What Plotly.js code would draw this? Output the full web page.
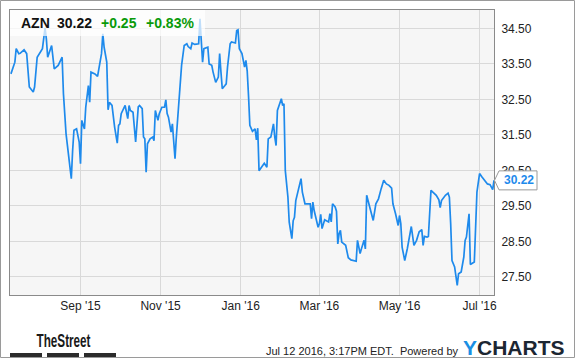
<!DOCTYPE html>
<html>
<head>
<meta charset="utf-8">
<script src="https://cdn.plot.ly/plotly-3.0.1.min.js"></script>
<style>
  html, body { margin: 0; padding: 0; background: #fff; }
  #chart { width: 575px; height: 358px; }
</style>
</head>
<body>
<div id="chart"></div>
<script>
// ---- data ----
const ticker = 'AZN';
const lastPriceText = '30.22';
const changeText = '+0.25';
const changePctText = '+0.83%';

const dates = [
'2015-07-10','2015-07-13','2015-07-14','2015-07-16','2015-07-17','2015-07-20','2015-07-22','2015-07-23','2015-07-24','2015-07-27',
'2015-07-28','2015-07-30','2015-08-01','2015-08-03','2015-08-05','2015-08-06','2015-08-07','2015-08-10','2015-08-12','2015-08-15',
'2015-08-18','2015-08-19','2015-08-21','2015-08-23','2015-08-25','2015-08-26','2015-08-27','2015-08-29','2015-08-31','2015-09-01',
'2015-09-02','2015-09-04','2015-09-05','2015-09-07','2015-09-08','2015-09-09','2015-09-12','2015-09-14','2015-09-16','2015-09-17',
'2015-09-18','2015-09-19','2015-09-21','2015-09-22','2015-09-23','2015-09-25','2015-09-27','2015-09-29','2015-09-30','2015-10-01',
'2015-10-02','2015-10-05','2015-10-07','2015-10-08','2015-10-09','2015-10-11','2015-10-13','2015-10-15','2015-10-16','2015-10-18',
'2015-10-19','2015-10-20','2015-10-21','2015-10-22','2015-10-24','2015-10-26','2015-10-27','2015-10-28','2015-10-30','2015-10-31',
'2015-11-02','2015-11-04','2015-11-05','2015-11-06','2015-11-07','2015-11-08','2015-11-09','2015-11-10','2015-11-12','2015-11-13',
'2015-11-15','2015-11-17','2015-11-19','2015-11-21','2015-11-22','2015-11-24','2015-11-25','2015-11-27','2015-11-30','2015-12-01',
'2015-12-02','2015-12-03','2015-12-04','2015-12-06','2015-12-07','2015-12-08','2015-12-10','2015-12-11','2015-12-12','2015-12-13',
'2015-12-15','2015-12-16','2015-12-17','2015-12-18','2015-12-20','2015-12-21','2015-12-22','2015-12-24','2015-12-25','2015-12-28',
'2015-12-29','2015-12-30','2015-12-31','2016-01-02','2016-01-03','2016-01-04','2016-01-05','2016-01-06','2016-01-07','2016-01-08',
'2016-01-10','2016-01-12','2016-01-13','2016-01-14','2016-01-15','2016-01-17','2016-01-19','2016-01-21','2016-01-22','2016-01-24',
'2016-01-26','2016-01-27','2016-01-28','2016-01-29','2016-01-31','2016-02-01','2016-02-02','2016-02-03','2016-02-04','2016-02-06',
'2016-02-07','2016-02-09','2016-02-10','2016-02-11','2016-02-12','2016-02-14','2016-02-16','2016-02-17','2016-02-19','2016-02-21',
'2016-02-23','2016-02-24','2016-02-25','2016-02-26','2016-02-28','2016-02-29','2016-03-01','2016-03-02','2016-03-03','2016-03-05',
'2016-03-08','2016-03-09','2016-03-10','2016-03-11','2016-03-13','2016-03-14','2016-03-15','2016-03-16','2016-03-17','2016-03-18',
'2016-03-21','2016-03-23','2016-03-25','2016-03-29','2016-03-30','2016-04-01','2016-04-02','2016-04-04','2016-04-05','2016-04-06',
'2016-04-09','2016-04-11','2016-04-13','2016-04-15','2016-04-17','2016-04-19','2016-04-21','2016-04-23','2016-04-25','2016-04-26',
'2016-04-28','2016-04-30','2016-05-01','2016-05-02','2016-05-03','2016-05-05','2016-05-07','2016-05-09','2016-05-10','2016-05-12',
'2016-05-14','2016-05-16','2016-05-18','2016-05-19','2016-05-20','2016-05-22','2016-05-23','2016-05-25','2016-05-27','2016-05-29',
'2016-05-31','2016-06-01','2016-06-02','2016-06-05','2016-06-07','2016-06-08','2016-06-09','2016-06-10','2016-06-12','2016-06-13',
'2016-06-14','2016-06-15','2016-06-17','2016-06-19','2016-06-20','2016-06-21','2016-06-23','2016-06-24','2016-06-25','2016-06-27',
'2016-06-29','2016-07-01','2016-07-03','2016-07-05','2016-07-07','2016-07-09','2016-07-11','2016-07-12'
];

const prices = [
33.22,33.55,33.93,33.79,33.80,33.90,33.79,33.32,32.85,32.71,
32.85,33.69,33.81,33.93,34.52,34.20,33.69,34.02,33.36,33.46,
33.69,32.66,31.53,30.97,30.27,31.06,31.63,31.67,31.30,30.69,
31.91,31.67,32.28,32.89,32.42,33.27,33.22,33.15,33.60,33.79,
34.35,33.97,33.55,32.21,32.42,32.33,31.72,31.27,31.77,31.81,
32.10,32.33,31.96,32.33,32.19,32.14,31.30,32.29,32.33,32.24,
31.44,31.39,30.45,31.25,31.39,31.44,31.34,32.19,31.91,32.10,
32.28,32.28,32.49,32.10,32.00,31.77,31.58,31.81,30.83,31.44,
32.38,33.46,34.02,34.07,33.99,33.93,34.09,34.05,34.07,34.77,
34.16,33.55,33.93,33.97,33.97,33.50,33.46,33.27,33.13,32.98,
33.13,33.79,33.27,32.80,32.89,32.94,33.41,34.07,34.12,34.09,
34.44,34.46,33.93,33.79,33.60,33.41,33.60,33.30,32.60,31.77,
31.60,31.67,31.36,31.69,30.49,30.59,30.70,30.59,31.39,31.44,
31.81,31.44,31.20,32.19,32.38,32.52,32.33,32.38,30.50,29.75,
29.04,28.58,29.08,29.18,29.65,29.94,30.27,29.89,29.56,29.56,
29.56,29.14,29.61,29.37,29.09,28.90,29.00,29.26,28.86,29.11,
29.05,29.28,29.05,29.56,29.47,29.35,28.43,28.72,28.81,28.48,
28.39,28.04,27.98,27.94,28.53,28.16,28.29,28.53,28.29,29.80,
29.37,29.09,29.56,29.70,29.98,30.22,30.12,30.08,30.00,29.56,
29.28,28.95,29.23,29.00,28.34,27.96,28.30,28.72,28.92,28.39,
28.53,28.77,28.83,28.39,28.64,28.62,28.64,29.94,29.86,29.80,
29.67,29.45,29.65,29.80,29.86,29.75,29.00,27.96,27.78,27.50,
27.26,27.59,27.64,28.06,28.53,28.62,29.28,27.85,27.87,27.92,
29.89,30.41,30.31,30.20,30.12,30.10,29.96,30.22
];

const xTickDates = ['2015-09-01','2015-11-01','2016-01-01','2016-03-01','2016-05-01','2016-07-01'];
const xTickLabels = ["Sep '15","Nov '15","Jan '16","Mar '16","May '16","Jul '16"];
const yTickValues = [27.5, 28.5, 29.5, 30.5, 31.5, 32.5, 33.5, 34.5];

const footerStamp = 'Jul 12 2016, 3:17PM EDT.  Powered by';

// ---- layout helpers (pixel -> paper) ----
const L = 10, R = 494, T = 10, B = 295;
const px = v => (v - L) / (R - L);
const py = v => (B - v) / (B - T);

const lineBlue = 'rgb(30,138,236)';
const green = '#0a9a0a';
const lastVal = prices[prices.length - 1];
const unitPx = (B - T) / (35.02 - 26.99);
const halfH = 9.5 / unitPx;

const trace = {
  type: 'scatter', mode: 'lines',
  x: dates, y: prices,
  line: {color: lineBlue, width: 1.7},
  hoverinfo: 'skip', cliponaxis: true
};

const hdrFont = {family: 'Liberation Sans, Arial, sans-serif', size: 14, color: '#111', weight: 700};

const layout = {
  width: 575, height: 358,
  margin: {l: L, r: 575 - R, t: T, b: 358 - B, pad: 0},
  paper_bgcolor: '#ffffff', plot_bgcolor: '#f6f6f6',
  showlegend: false,
  font: {family: 'Liberation Sans, Arial, sans-serif', size: 12, color: '#222'},
  xaxis: {
    type: 'date', range: ['2015-07-09 07:00', '2016-07-12 00:00'],
    tickmode: 'array', tickvals: xTickDates, ticktext: xTickLabels,
    showgrid: true, gridcolor: '#d9d9d9', gridwidth: 1,
    showline: true, mirror: true, linecolor: '#8a8a8a', linewidth: 1,
    ticks: '', zeroline: false, fixedrange: true,
    tickfont: {size: 12, color: '#222'}
  },
  yaxis: {
    side: 'right', range: [26.99, 35.02],
    tickmode: 'array', tickvals: yTickValues, tickformat: '.2f',
    showgrid: true, gridcolor: '#d9d9d9', gridwidth: 1,
    showline: true, mirror: true, linecolor: '#8a8a8a', linewidth: 1,
    ticks: '', zeroline: false, fixedrange: true,
    ticklabelstandoff: 4,
    tickfont: {size: 12, color: '#222'}
  },
  shapes: [
    // translucent header backdrop
    {type: 'rect', xref: 'paper', yref: 'paper', x0: px(10), x1: px(205), y0: py(36), y1: py(10),
     fillcolor: 'rgba(255,255,255,0.72)', line: {width: 0}, layer: 'above'},
    // last value callout box with pointer
    {type: 'path', xref: 'paper', yref: 'y', layer: 'above',
     path: `M ${px(494.5)},${lastVal} L ${px(499)},${lastVal + halfH} L ${px(537)},${lastVal + halfH} L ${px(537)},${lastVal - halfH} L ${px(499)},${lastVal - halfH} Z`,
     fillcolor: '#ffffff', line: {color: '#9a9a9a', width: 1}},
    // outer frame
    {type: 'rect', xref: 'paper', yref: 'paper', x0: px(0.5), x1: px(574.5), y0: py(357.5), y1: py(0.5),
     line: {color: '#9a9a9a', width: 1}, fillcolor: 'rgba(0,0,0,0)', layer: 'above'},
    // TheStreet underline bars
    {type: 'rect', xref: 'paper', yref: 'paper', x0: px(10), x1: px(42), y0: py(357), y1: py(353), fillcolor: '#2b2b2b', line: {width: 0}},
    {type: 'rect', xref: 'paper', yref: 'paper', x0: px(47), x1: px(79), y0: py(357), y1: py(353), fillcolor: '#2b2b2b', line: {width: 0}},
    {type: 'rect', xref: 'paper', yref: 'paper', x0: px(84), x1: px(116), y0: py(357), y1: py(353), fillcolor: '#2b2b2b', line: {width: 0}}
  ],
  annotations: [
    {xref: 'paper', yref: 'paper', x: px(20), y: py(23), xanchor: 'left', yanchor: 'middle', showarrow: false,
     text: '<b>' + ticker + '</b>', font: hdrFont, borderpad: 0},
    {xref: 'paper', yref: 'paper', x: px(56), y: py(23), xanchor: 'left', yanchor: 'middle', showarrow: false,
     text: '<b>' + lastPriceText + '</b>', font: hdrFont, borderpad: 0},
    {xref: 'paper', yref: 'paper', x: px(100), y: py(23), xanchor: 'left', yanchor: 'middle', showarrow: false,
     text: '<b>' + changeText + '</b>', font: Object.assign({}, hdrFont, {color: green}), borderpad: 0},
    {xref: 'paper', yref: 'paper', x: px(145), y: py(23), xanchor: 'left', yanchor: 'middle', showarrow: false,
     text: '<b>' + changePctText + '</b>', font: Object.assign({}, hdrFont, {color: green}), borderpad: 0},
    // last value label
    {xref: 'paper', yref: 'y', x: px(518.5), y: lastVal, xanchor: 'center', yanchor: 'middle', showarrow: false,
     text: '<b>' + lastVal.toFixed(2) + '</b>', font: {size: 12, color: lineBlue}, borderpad: 0},
    // footer
    {xref: 'paper', yref: 'paper', x: px(63), y: py(341), xanchor: 'center', yanchor: 'middle', showarrow: false,
     text: '<b>TheStreet</b>', font: {family: 'Liberation Sans, Arial, sans-serif', size: 18, color: '#1a1a1a'}, borderpad: 0},
    {xref: 'paper', yref: 'paper', x: px(459), y: py(350.5), xanchor: 'right', yanchor: 'middle', showarrow: false,
     text: footerStamp, font: {size: 11, color: '#222'}, borderpad: 0},
    {xref: 'paper', yref: 'paper', x: px(462), y: py(347), xanchor: 'left', yanchor: 'middle', showarrow: false,
     text: '<b><span style="color:#1a8fe3">Y</span>CHARTS</b>', font: {size: 21, color: '#1c2632'}, borderpad: 0}
  ]
};

Plotly.newPlot('chart', [trace], layout, {staticPlot: true, displayModeBar: false}).then(gd => {
  // squeeze the logo wordmark into its condensed width
  const logo = gd.querySelector('.annotation[data-index="5"] .annotation-text');
  if (logo) {
    logo.setAttribute('textLength', '54');
    logo.setAttribute('lengthAdjust', 'spacingAndGlyphs');
  }
});
</script>
</body>
</html>
